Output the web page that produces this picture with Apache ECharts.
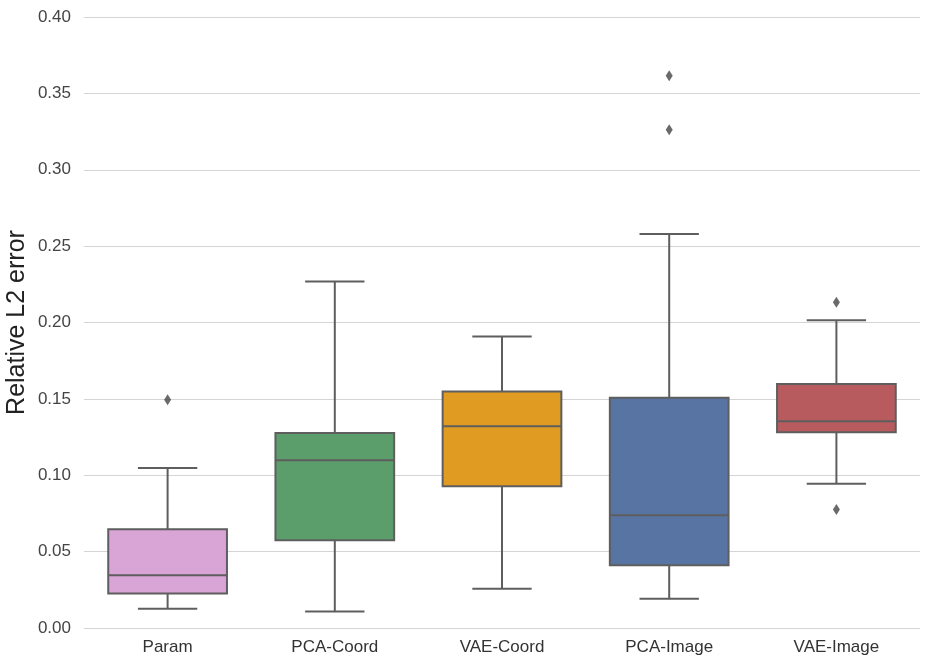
<!DOCTYPE html>
<html>
<head>
<meta charset="utf-8">
<script src="https://cdn.jsdelivr.net/npm/echarts@6/dist/echarts.min.js"></script>
<style>html,body{margin:0;padding:0;background:#fff;}#c{width:930px;height:662px;}</style>
</head>
<body>
<div id="c"></div>
<script>
const categories = ['Param', 'PCA-Coord', 'VAE-Coord', 'PCA-Image', 'VAE-Image'];
// [lower whisker, Q1, median, Q3, upper whisker]
const boxStats = [
  [0.0126, 0.0226, 0.0346, 0.0647, 0.1048],
  [0.0108, 0.0575, 0.1098, 0.1277, 0.2268],
  [0.0257, 0.0928, 0.1321, 0.1548, 0.1908],
  [0.0191, 0.0411, 0.0738, 0.1507, 0.2580],
  [0.0944, 0.1281, 0.1353, 0.1598, 0.2014]
];
const outliers = [
  [0, 0.1495],
  [3, 0.3616],
  [3, 0.3262],
  [4, 0.2132],
  [4, 0.0776]
];
const colors = ['#d8a5d6', '#5b9e6c', '#e09c22', '#5874a3', '#b85b5e'];
const yTicks = { min: 0, max: 0.40, interval: 0.05 };

const edge = '#5e5e5e';
const chart = echarts.init(document.getElementById('c'));

const boxData = boxStats.map((s, i) => [i].concat(s));

chart.setOption({
  animation: false,
  grid: { left: 84, right: 10, top: 17, bottom: 34, containLabel: false, outerBoundsMode: 'none' },
  xAxis: {
    type: 'category',
    data: categories,
    axisLine: { show: false },
    axisTick: { show: false },
    axisLabel: { color: '#333', fontSize: 17, margin: 11, fontFamily: 'Liberation Sans, Arial, sans-serif' },
    splitLine: { show: false }
  },
  yAxis: {
    type: 'value',
    min: yTicks.min, max: yTicks.max, interval: yTicks.interval,
    name: 'Relative L2 error',
    nameLocation: 'middle',
    nameGap: 54,
    nameMoveOverlap: false,
    nameTextStyle: { fontSize: 25, color: '#222', fontFamily: 'Liberation Sans, Arial, sans-serif' },
    axisLine: { show: false },
    axisTick: { show: false },
    axisLabel: { color: '#444', fontSize: 17, margin: 13, fontFamily: 'Liberation Sans, Arial, sans-serif',
      formatter: v => v.toFixed(2) },
    splitLine: { lineStyle: { color: '#d4d4d4', width: 1 } }
  },
  series: [
    {
      type: 'custom',
      data: boxData,
      encode: { x: 0, y: [1, 2, 3, 4, 5] },
      renderItem: function (params, api) {
        const i = api.value(0);
        const bw = api.size([1, 0])[0] * 0.71;
        const cw = bw / 2;
        const x = api.coord([i, 0])[0];
        const yLow = api.coord([i, api.value(1)])[1];
        const yQ1 = api.coord([i, api.value(2)])[1];
        const yMed = api.coord([i, api.value(3)])[1];
        const yQ3 = api.coord([i, api.value(4)])[1];
        const yHigh = api.coord([i, api.value(5)])[1];
        const ls = { stroke: edge, lineWidth: 2, fill: null };
        return {
          type: 'group',
          children: [
            { type: 'line', shape: { x1: x, y1: yQ3, x2: x, y2: yHigh }, style: ls },
            { type: 'line', shape: { x1: x, y1: yQ1, x2: x, y2: yLow }, style: ls },
            { type: 'line', shape: { x1: x - cw / 2, y1: yHigh, x2: x + cw / 2, y2: yHigh }, style: ls },
            { type: 'line', shape: { x1: x - cw / 2, y1: yLow, x2: x + cw / 2, y2: yLow }, style: ls },
            { type: 'rect', shape: { x: x - bw / 2, y: yQ3, width: bw, height: yQ1 - yQ3 },
              style: { fill: colors[i], stroke: edge, lineWidth: 2 } },
            { type: 'line', shape: { x1: x - bw / 2, y1: yMed, x2: x + bw / 2, y2: yMed }, style: ls }
          ]
        };
      }
    },
    {
      type: 'scatter',
      data: outliers,
      symbol: 'diamond',
      symbolSize: [7, 11],
      itemStyle: { color: '#454545' },
      z: 5
    }
  ]
});
</script>
</body>
</html>
